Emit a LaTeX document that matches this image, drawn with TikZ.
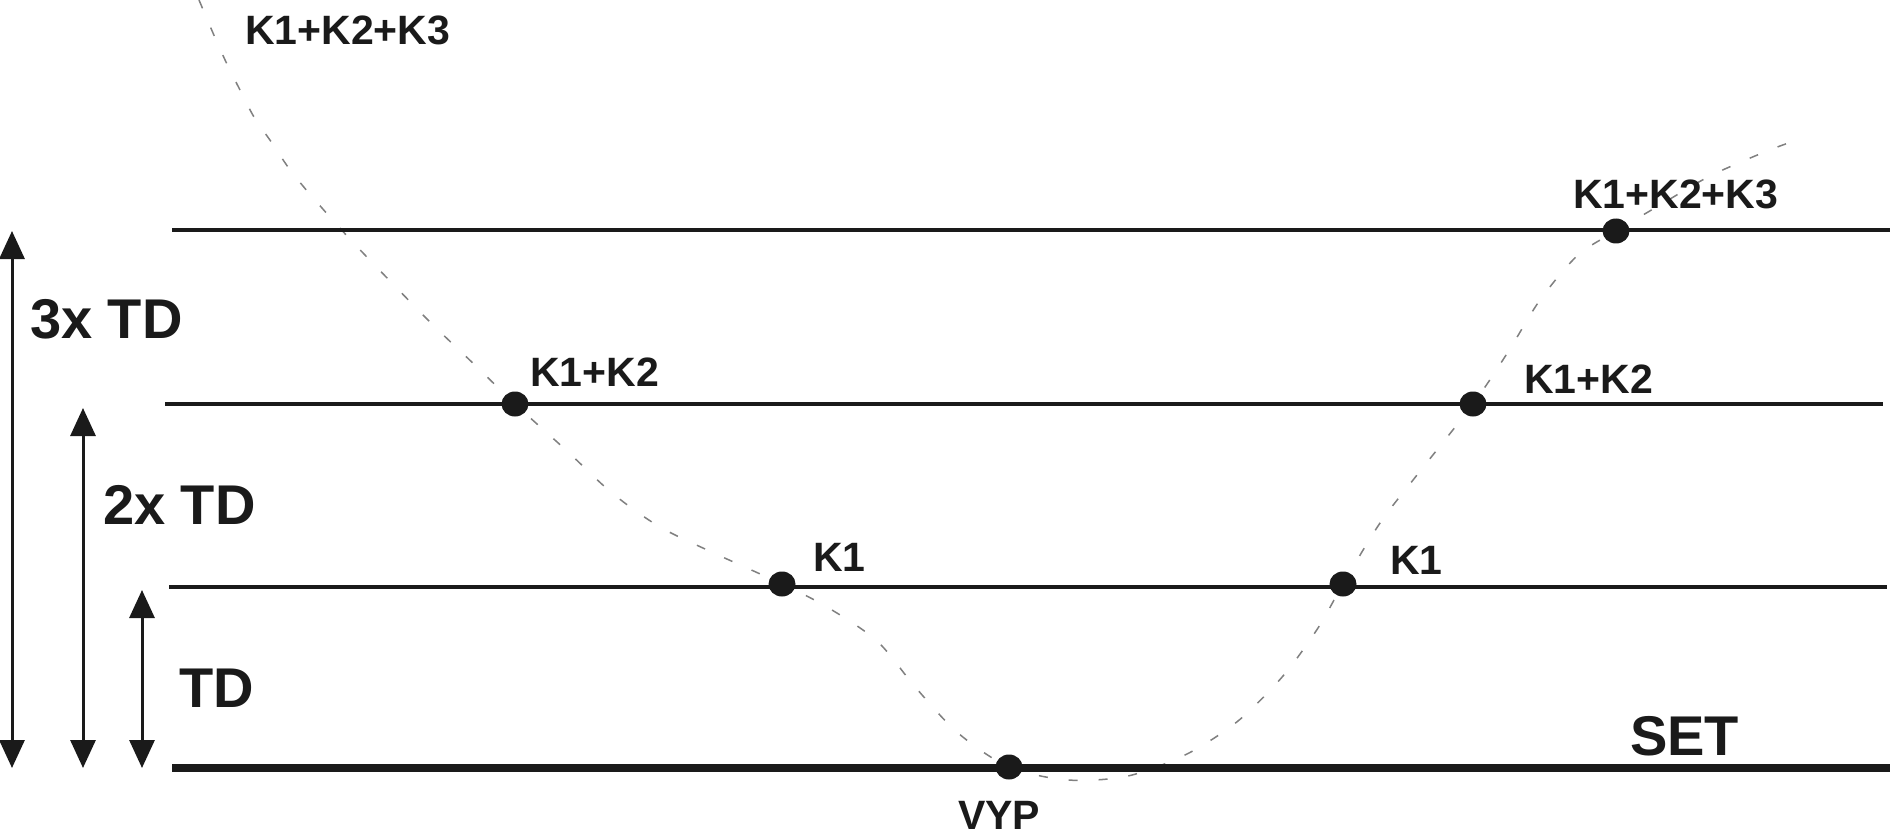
\documentclass[tikz,border=0pt]{standalone}
\usepackage{fontspec}
\setmainfont{Liberation Sans}
\usetikzlibrary{arrows.meta,shapes.geometric}
\definecolor{ink}{HTML}{1A1A1A}
\tikzset{
  level/.style={draw=ink, line width=4pt},
  setline/.style={draw=ink, line width=8pt},
  dim/.style={draw=ink, line width=3pt, {Triangle[width=25pt,length=28pt]}-{Triangle[width=25pt,length=28pt]}},
  dot/.style={ellipse, fill=ink, inner sep=0pt, minimum width=27pt, minimum height=25pt},
  small/.style={anchor=base west, inner sep=0pt, text=ink, font=\bfseries\fontsize{41}{41}\selectfont},
  big/.style={anchor=base west, inner sep=0pt, text=ink, font=\bfseries\fontsize{56}{56}\selectfont},
  curve/.style={draw=black!50, line width=1.5pt, dash pattern=on 9pt off 21pt}
}
\begin{document}
\begin{tikzpicture}[x=1pt,y=-1pt]
\useasboundingbox (0,0) rectangle (1893,829);
\fill[white] (0,0) rectangle (1893,829);

% dashed curve
\draw[curve] plot[smooth, tension=0.5] coordinates {
(199,0) (213,33) (226,62) (240,90) (254,117) (272,143) (288,167) (308,192)
(348,237) (390,281) (433,325) (477,367) (515,404) (567,451) (612,493)
(660,527) (716,554) (782,584) (827,607) (877,641) (916,688) (958,733)
(1009,767) (1068,780) (1128,776) (1187,754) (1238,721) (1283,676)
(1318,628) (1343,584) (1380,523) (1417,475) (1473,404) (1508,352)
(1540,300) (1578,255) (1616,231) (1660,205) (1710,176) (1767,151) (1800,139)};

% level lines
\coordinate (l3a) at (172,230); \coordinate (l3b) at (1890,230);
\coordinate (l2a) at (165,404); \coordinate (l2b) at (1883,404);
\coordinate (l1a) at (169,587); \coordinate (l1b) at (1887,587);
\coordinate (s0a) at (172,768); \coordinate (s0b) at (1890,768);
\draw[level] (l3a) -- (l3b);
\draw[level] (l2a) -- (l2b);
\draw[level] (l1a) -- (l1b);
\draw[setline] (s0a) -- (s0b);

% dimension arrows
\coordinate (a3t) at (12,231); \coordinate (a3b) at (12,768);
\coordinate (a2t) at (83,408); \coordinate (a2b) at (83,768);
\coordinate (a1t) at (142,590); \coordinate (a1b) at (142,768);
\draw[dim] (a3t) -- (a3b);
\draw[dim] (a2t) -- (a2b);
\draw[dim] (a1t) -- (a1b);

% dots
\node[dot] (d3r) at (1616,231) {};
\node[dot] (d2l) at (515,404) {};
\node[dot] (d2r) at (1473,404) {};
\node[dot] (d1l) at (782,584) {};
\node[dot] (d1r) at (1343,584) {};
\node[dot] (vyp) at (1009,767) {};

% labels
\node[small] (t3l) at (245,45) {K1+K2+K3};
\node[small] (t3r) at (1573,209) {K1+K2+K3};
\node[small] (t2l) at (530,386) {K1+K2};
\node[small] (t2r) at (1524,393) {K1+K2};
\node[small] (t1l) at (813,571) {K1};
\node[small] (t1r) at (1390,574) {K1};
\node[small] (tv) at (958,829) {VYP};

\node[big] (td3) at (30,338) {3x TD};
\node[big] (td2) at (103,524) {2x TD};
\node[big] (td1) at (179,707) {TD};
\node[big] (set) at (1630,755) {SET};
\end{tikzpicture}
\end{document}
